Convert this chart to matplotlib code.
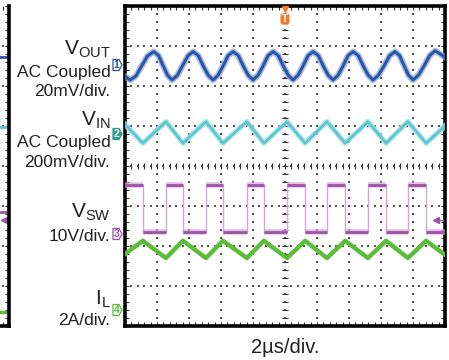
import numpy as np
import matplotlib
matplotlib.use("Agg")
import matplotlib.pyplot as plt
from matplotlib.ticker import MultipleLocator
from matplotlib.patches import Polygon, FancyBboxPatch

plt.rcParams['font.family'] = ['Liberation Sans', 'DejaVu Sans']
plt.rcParams['mathtext.fontset'] = 'custom'
plt.rcParams['mathtext.rm'] = 'Liberation Sans'

# Screen coordinates in divisions: x 0..10 (2us/div), y -4..4
# VOUT (ch1) samples
vout_t = [0.00, 0.16, 0.34, 0.52, 0.70, 0.90, 1.05, 1.19, 1.33, 1.47,
          1.64, 1.80, 1.97, 2.13, 2.29, 2.44, 2.60, 2.75,
          2.91, 3.07, 3.22, 3.38, 3.54, 3.69, 3.85, 4.00,
          4.16, 4.32, 4.47, 4.63, 4.79, 4.94, 5.10, 5.25,
          5.41, 5.57, 5.72, 5.88, 6.04, 6.19, 6.35, 6.50,
          6.66, 6.82, 6.97, 7.13, 7.29, 7.44, 7.60, 7.75,
          7.92, 8.10, 8.27, 8.44, 8.58, 8.72, 8.86, 9.00,
          9.17, 9.35, 9.52, 9.69, 9.85, 10.0]
vout_v = [2.24, 2.15, 2.25, 2.50, 2.75, 2.86, 2.76, 2.51, 2.27, 2.15,
          2.27, 2.51, 2.76, 2.86, 2.76, 2.51, 2.27, 2.15,
          2.27, 2.51, 2.76, 2.86, 2.76, 2.51, 2.27, 2.15,
          2.27, 2.51, 2.76, 2.86, 2.76, 2.51, 2.27, 2.15,
          2.27, 2.51, 2.76, 2.86, 2.76, 2.51, 2.27, 2.15,
          2.27, 2.51, 2.76, 2.86, 2.76, 2.51, 2.27, 2.15,
          2.27, 2.51, 2.76, 2.86, 2.76, 2.51, 2.27, 2.15,
          2.27, 2.51, 2.76, 2.88, 2.80, 2.72]

# switch node edges (div): falls and rises alternate, starting high
sw_edges = [0.56, 1.28, 1.81, 2.53, 3.06, 3.81, 4.34, 5.06, 5.63, 6.31,
            6.88, 7.59, 8.16, 8.84, 9.41]
sw_high = -0.47
sw_low = -1.65

# VIN (ch2) triangle vertices
vin_t = [0.00, 0.56, 1.28, 1.81, 2.53, 3.06, 3.81, 4.34, 5.06, 5.63, 6.31,
         6.88, 7.59, 8.16, 8.84, 9.41, 10.0]
vin_v = [1.04, 0.57, 1.11, 0.57, 1.11, 0.57, 1.11, 0.57, 1.11, 0.57, 1.11,
         0.57, 1.11, 0.57, 1.11, 0.57, 1.00]

# IL (ch4) triangle vertices
il_t = [0.00, 0.56, 1.28, 1.81, 2.53, 3.06, 3.81, 4.34, 5.06, 5.63, 6.31,
        6.88, 7.59, 8.16, 8.84, 9.41, 10.0]
il_v = [-2.20, -1.87, -2.30, -1.87, -2.30, -1.87, -2.30, -1.87, -2.30,
        -1.87, -2.30, -1.87, -2.30, -1.87, -2.30, -1.87, -2.22]

# trace ends seen on the previous screen at left
left_levels = [2.72, 0.97, -1.15, -3.65]

W, H = 449, 360
def fx(x):
    return x / W
def fy(y):
    return 1 - y / H

C_BLUE = '#2a56a8'
C_BLUE_L = '#86a2d6'
C_CYAN = '#5cc6d2'
C_CYAN_L = '#a9e1e7'
C_PURP = '#a052a8'
C_PURP_L = '#d2a6d6'
C_GREEN = '#5bbd3a'
C_TEAL = '#2f9c8c'
C_ORANGE = '#f07b2c'

fig = plt.figure(figsize=(W / 100, H / 100), dpi=100)


def screen(ax, x0, x1):
    ax.set_xlim(x0, x1)
    ax.set_ylim(-4, 4)
    ax.xaxis.set_major_locator(MultipleLocator(1))
    ax.yaxis.set_major_locator(MultipleLocator(1))
    ax.xaxis.set_minor_locator(MultipleLocator(0.2))
    ax.yaxis.set_minor_locator(MultipleLocator(0.2))
    ax.tick_params(which='both', direction='in', length=3, width=0.8,
                   color='#333333', top=True, right=True,
                   labelbottom=False, labelleft=False)
    for s in ax.spines.values():
        s.set_linewidth(2.6)
    # dotted graticule
    sub = np.arange(-4, 4.01, 0.2)
    subx = np.arange(0, 10.01, 0.2)
    for k in range(1, 10):
        ax.scatter(np.full(sub.size, k), sub, s=1.0, marker='s',
                   color='#555555', lw=0, zorder=1)
    for k in range(-3, 4):
        ax.scatter(subx, np.full(subx.size, k), s=1.0, marker='s',
                   color='#555555', lw=0, zorder=1)


# left partial screen
axl = fig.add_axes([fx(-23), fy(326), fx(32), 320 / H])
screen(axl, 9, 10)
axl.spines['left'].set_visible(False)
axl.spines['top'].set_visible(False)
axl.plot([9, 10], [0, 0], '|', color='#333333', ms=3)
for lv, c in zip(left_levels, [C_BLUE, C_CYAN, C_PURP, C_GREEN]):
    axl.plot([9, 10], [lv, lv], color=c, lw=2.5 if c == C_GREEN else 2)
axl.plot(9.85, -1.35, marker='<', color=C_PURP, ms=4)

# main screen
ax = fig.add_axes([fx(125), fy(326), fx(320), 320 / H])
screen(ax, 0, 10)
ax.plot(np.arange(0, 10.01, 0.2), np.zeros(51), '|', color='#333333',
        ms=4, mew=0.8, zorder=1)
ax.plot(np.full(41, 5), np.arange(-4, 4.01, 0.2), '_', color='#333333',
        ms=4, mew=0.8, zorder=1)

# VOUT
ax.plot(vout_t, vout_v, color=C_BLUE_L, lw=4.5, alpha=0.7, zorder=3)
ax.plot(vout_t, vout_v, color=C_BLUE, lw=2.2, zorder=4)

# VIN
ax.plot(vin_t, vin_v, color=C_CYAN_L, lw=4.0, alpha=0.8, zorder=3)
ax.plot(vin_t, vin_v, color=C_CYAN, lw=2.0, zorder=4)

# VSW: thin light edges, heavy flat tops
bounds = [0.0] + sw_edges + [10.0]
levels = [sw_high if i % 2 == 0 else sw_low for i in range(len(bounds) - 1)]
ax.step(bounds, levels + [levels[-1]], where='post', color=C_PURP_L,
        lw=1.0, zorder=3)
ax.hlines(levels, bounds[:-1], bounds[1:], color=C_PURP_L, lw=4.0,
          alpha=0.7, zorder=3)
ax.hlines(levels, bounds[:-1], bounds[1:], color=C_PURP, lw=2.0, zorder=4)

# IL
ax.plot(il_t, il_v, color=C_GREEN, lw=3.2, zorder=5)

# trigger level arrow at right
ax.plot([9.75, 9.95], [-1.35, -1.35], color=C_PURP, lw=1, zorder=5)
ax.plot(9.72, -1.35, marker='<', color=C_PURP, ms=4, zorder=5)

# trigger position marker
ax.plot(5, 3.92, marker='v', color=C_ORANGE, ms=5, clip_on=False, zorder=6)
ax.add_patch(FancyBboxPatch((4.88, 3.55), 0.24, 0.25,
                            boxstyle='round,pad=0,rounding_size=0.06',
                            fc=C_ORANGE, ec=C_ORANGE, zorder=6))
ax.text(5, 3.675, 'T', color='white', fontsize=7, fontweight='bold',
        ha='center', va='center', zorder=7)

# channel markers
def marker(yc, num, col, filled=False):
    x0, x1, h = 113, 122, 5.5
    pts = [(x0, yc - h), (x1 - 3, yc - h), (x1, yc), (x1 - 3, yc + h),
           (x0, yc + h)]
    fig.add_artist(Polygon([(fx(a), fy(b)) for a, b in pts], closed=True,
                           fc=col if filled else 'white', ec=col, lw=0.9,
                           transform=fig.transFigure))
    fig.text(fx(x0 + 3.6), fy(yc), num, color='white' if filled else col,
             fontsize=7.5, ha='center', va='center', fontweight='bold')

marker(65, '1', C_BLUE)
marker(134, '2', C_TEAL, filled=True)
marker(234, '3', C_PURP)
marker(310, '4', C_GREEN)

# labels
lab = dict(ha='right', va='baseline', color='#231f20')
fig.text(fx(111), fy(54), r'V$_{\mathrm{OUT}}$', fontsize=15, **lab)
fig.text(fx(111), fy(77), 'AC Coupled', fontsize=12.5, **lab)
fig.text(fx(110), fy(96), '20mV/div.', fontsize=12.5, **lab)
fig.text(fx(111), fy(125), r'V$_{\mathrm{IN}}$', fontsize=15, **lab)
fig.text(fx(111), fy(147), 'AC Coupled', fontsize=12.5, **lab)
fig.text(fx(110), fy(167), '200mV/div.', fontsize=12.5, **lab)
fig.text(fx(111), fy(217), r'V$_{\mathrm{SW}}$', fontsize=15, **lab)
fig.text(fx(110), fy(241), '10V/div.', fontsize=12.5, **lab)
fig.text(fx(111), fy(304), r'I$_{\mathrm{L}}$', fontsize=15, **lab)
fig.text(fx(110), fy(325), '2A/div.', fontsize=12.5, **lab)
fig.text(fx(285.5), fy(353), '2µs/div.', fontsize=14.5, ha='center',
         va='baseline', color='#231f20')

fig.savefig('out.png', dpi=100)
